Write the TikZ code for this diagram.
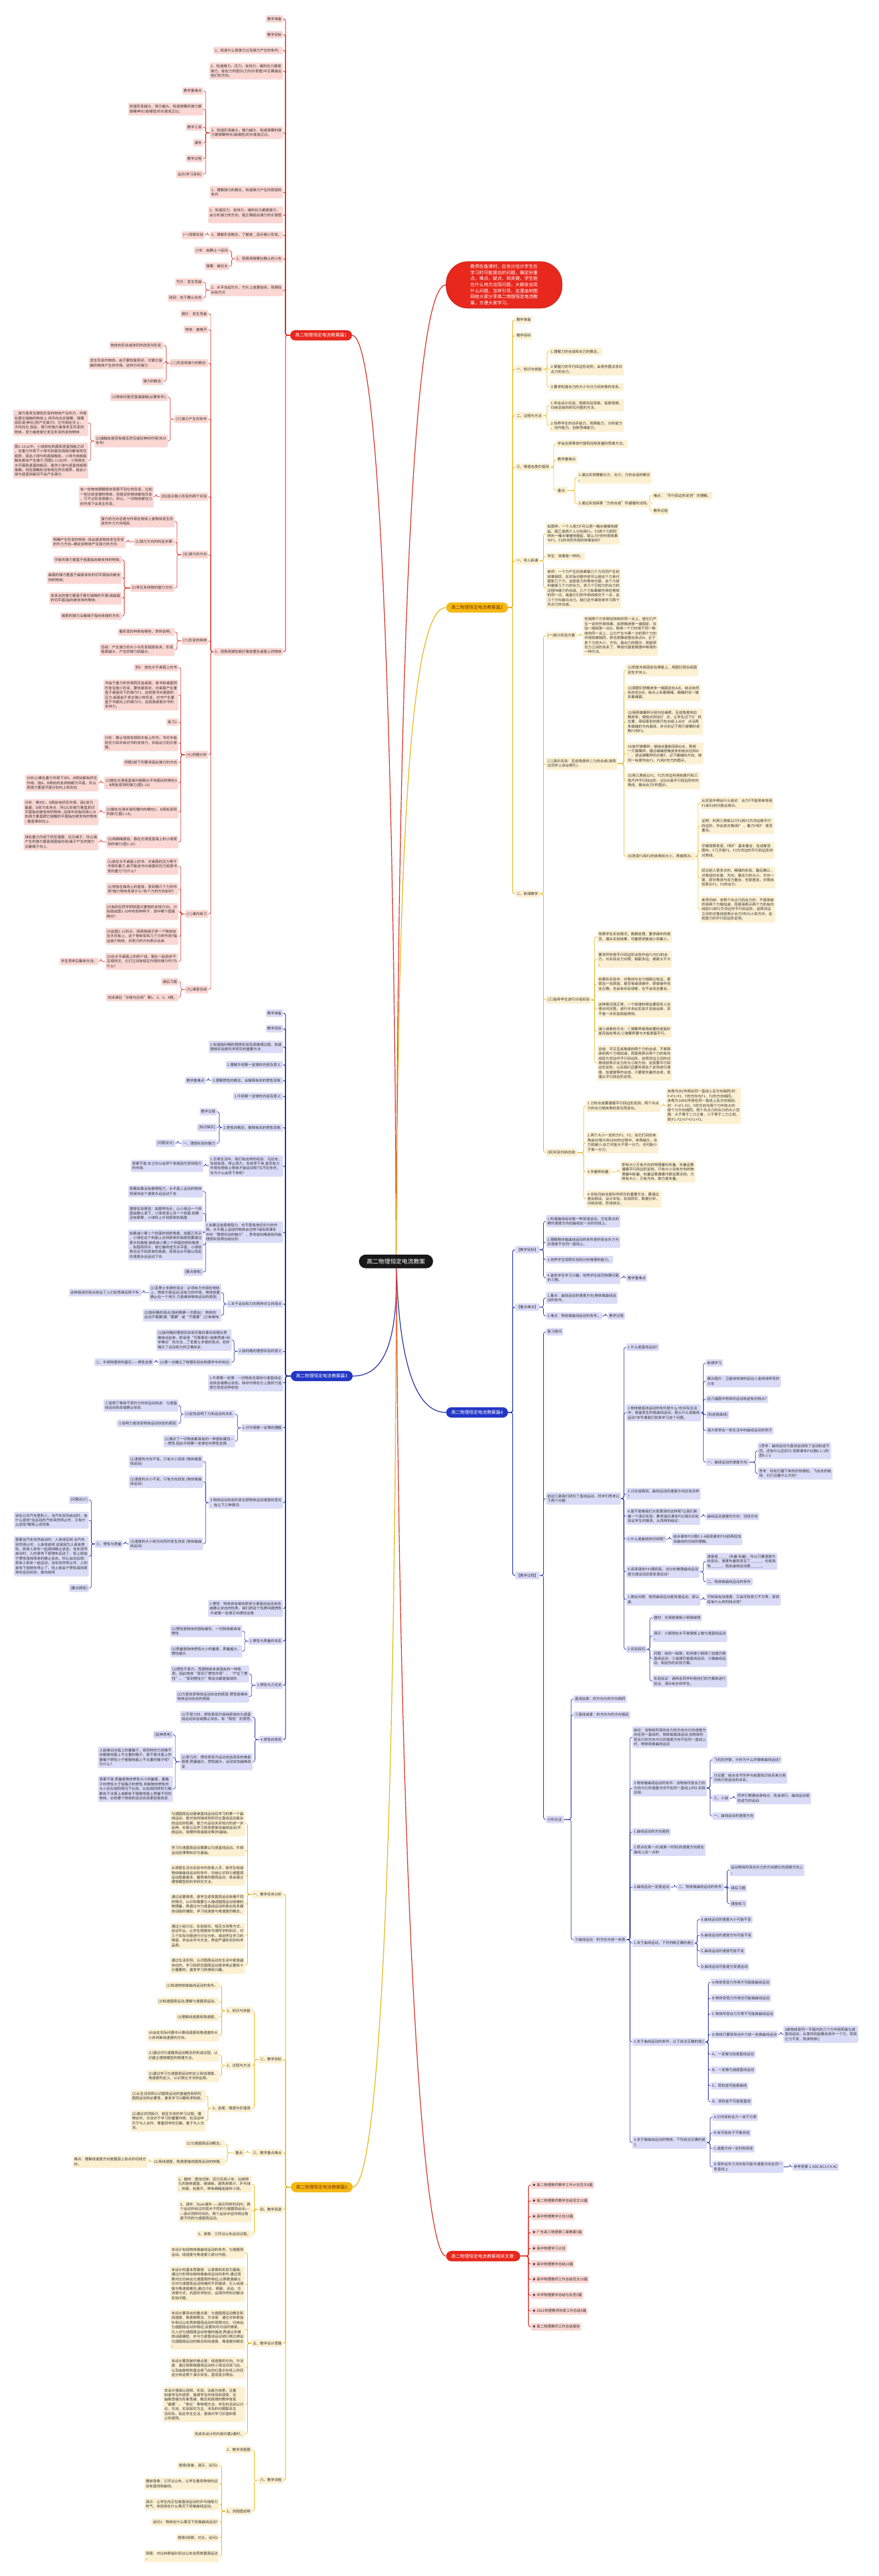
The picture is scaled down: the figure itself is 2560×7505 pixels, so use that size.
\documentclass[tikz,border=0pt]{standalone}
\usepackage{fontspec}
\setmainfont{Noto Sans CJK SC}
\usetikzlibrary{calc}
\pgfdeclarelayer{background}
\pgfsetlayers{background,main}
\definecolor{rleaf}{HTML}{FBD7D3}
\definecolor{rline}{HTML}{D9281E}
\definecolor{yleaf}{HTML}{FCF0D2}
\definecolor{yline}{HTML}{E6B410}
\definecolor{bleaf}{HTML}{D9DBF7}
\definecolor{bline}{HTML}{1C2BA0}
\definecolor{txt}{HTML}{333333}
\definecolor{mred}{HTML}{E8271D}
\definecolor{mgold}{HTML}{F4B915}
\definecolor{mblue}{HTML}{2337C6}
\definecolor{gtxt}{HTML}{7B3300}
\newcommand\leaffont{\fontsize{10.5}{13.6}\selectfont}
\newcommand\cL[3]{\foreach \cc in {#3}{\draw[#1] (#2.west) -| ([xshift=7pt]\cc.east) -- (\cc.east);}}
\newcommand\cR[3]{\foreach \cc in {#3}{\draw[#1] (#2.east) -| ([xshift=-7pt]\cc.west) -- (\cc.west);}}
\begin{document}
\begin{tikzpicture}[x=1pt,y=-1pt,
 leaf/.style={rounded corners=3pt, inner xsep=4pt, inner ysep=6pt, align=left, font=\leaffont, text=txt},
 rn/.style={leaf, fill=rleaf}, yn/.style={leaf, fill=yleaf}, bn/.style={leaf, fill=bleaf},
 ae/.style={anchor=east}, aw/.style={anchor=west},
 rc/.style={draw=rline, line width=1.3pt, rounded corners=6pt},
 yc/.style={draw=yline, line width=1.3pt, rounded corners=6pt},
 bc/.style={draw=bline, line width=1.3pt, rounded corners=6pt},
 rcm/.style={rc, line width=1.9pt}, ycm/.style={yc, line width=1.9pt}, bcm/.style={bc, line width=1.9pt},
 mainnode/.style={rounded corners=15pt, minimum height=30pt, inner xsep=15pt, font=\fontsize{13}{15}\selectfont},
]
\useasboundingbox (0,0) rectangle (2560,7505);

% ---------- centre and main nodes
\node[fill=black!90, text=white, rounded corners=20pt, minimum width=216pt, minimum height=40pt, font=\fontsize{17}{20}\selectfont] (C) at (1154,3675) {高二物理恒定电流教案};
\node[fill=mred, draw=rline!80!black, line width=1pt, text=white, rounded corners=64pt, minimum width=338pt, minimum height=136pt, align=left, font=\fontsize{13.1}{17.7}\selectfont] (ov) at (1469,830) {教师在备课时，应充分估计学生在\\学习时可能提出的问题，确定好重\\点，难点，疑点，和关键。学生能\\在什么地方出现问题，大都会出现\\什么问题，怎样引导。这里由树图\\网给大家分享高二物理恒定电流教\\案，方便大家学习。};
\node[mainnode, ae, fill=mred, text=white] (p1) at (1026,977) {高二物理恒定电流教案篇1};
\node[mainnode, aw, fill=mgold, text=gtxt] (p2) at (1300,1770) {高二物理恒定电流教案篇2};
\node[mainnode, ae, fill=mblue, text=white] (p3) at (1028,4009) {高二物理恒定电流教案篇3};
\node[mainnode, aw, fill=mblue, text=white] (p4) at (1300,4115) {高二物理恒定电流教案篇4};
\node[mainnode, ae, fill=mgold, text=gtxt] (p5) at (1028,6372) {高二物理恒定电流教案篇5};
\node[mainnode, aw, fill=mred, text=white] (p6) at (1300,6573) {高二物理恒定电流教案相关文章:};

% ---------- branch 1
\node[rn,ae] (a1) at (825,55) {教学准备};
\node[rn,ae] (a2) at (825,101) {教学目标};
\node[rn,ae] (a3) at (825,147) {1、知道什么是弹力以及弹力产生的条件。};
\node[rn,ae] (a4) at (825,207) {2、知道推力、压力、支持力、绳的拉力都是\\弹力，能在力的图示(力的示意图)中正确画出\\他们的方向。};
\node[rn,ae] (a5) at (825,387) {3、知道形变越大，弹力越大，知道弹簧的弹\\力跟弹簧伸长(或缩短)的长度成正比。};
\node[rn,ae] (a5a) at (592,265) {教学重难点};
\node[rn,ae] (a5b) at (592,318) {知道形变越大，弹力越大，知道弹簧的弹力跟\\弹簧伸长(或缩短)的长度成正比。};
\node[rn,ae] (a5c) at (592,370) {教学工具};
\node[rn,ae] (a5d) at (592,416) {课件};
\node[rn,ae] (a5e) at (592,462) {教学过程};
\node[rn,ae] (a5f) at (592,508) {出示[学习目标]};
\node[rn,ae] (a6) at (825,560) {1、理解弹力的概念，知道弹力产生的原因和\\条件.};
\node[rn,ae] (a7) at (825,626) {2、知道压力、支持力、绳的拉力都是弹力，\\会分析弹力的方向，能正确画出弹力的示意图\\.};
\node[rn,ae] (a8) at (825,685) {3、理解形变概念，了解放＿显示微小形变。};
\node[rn,ae] (a8a) at (597,685) {(一)观察实验};
\node[rn,ae] (a9) at (825,754) {1、观察用弹簧拉静止的小车};
\node[rn,ae] (a9a) at (668,730) {小车：由静止→运动};
\node[rn,ae] (a9b) at (668,776) {弹簧：被拉长};
\node[rn,ae] (a10) at (825,845) {2、水平支起竹片，竹片上放置砝码，观察砝\\码和竹片};
\node[rn,ae] (a10a) at (592,822) {竹片：发生弯曲};
\node[rn,ae] (a10b) at (592,868) {砝码：处于静止状态};
\node[rn,ae] (a11) at (825,1899) {3、观察用弹性钢片推放置在桌面上的物体};
\node[rn,ae] (b1) at (607,914) {钢片：发生弯曲};
\node[rn,ae] (b2) at (607,960) {物体：被推开};
\node[rn,ae] (b3) at (607,1058) {(二)形变和弹力的概念:};
\node[rn,ae] (b3a) at (477,1006) {物体的形状或体积的改变叫形变.};
\node[rn,ae] (b3b) at (477,1058) {发生形变的物体，由于要恢复原状，对跟它接\\触的物体产生的作用，这种力叫弹力.};
\node[rn,ae] (b3c) at (477,1111) {弹力的概念:};
\node[rn,ae] (b4) at (607,1221) {(三)弹力产生的条件};
\node[rn,ae] (b4a) at (489,1157) {(1)物体间是否直接接触(必要条件);};
\node[rn,ae] (b4b) at (489,1285) {(2)接触处是否有相互挤压或拉伸的作用(充分\\条件)};
\node[rn,ae] (b4b1) at (257,1232) {＿弹力是发生弹性形变的物体产生的力，作用\\在跟它接触的物体上.用手向右拉弹簧，弹簧\\因形变(伸长)而产生弹力f，它作用在手上，\\方向向左.因此，弹力的施力者是发生形变的\\物体，受力者是使它发生形变的其他物体.};
\node[rn,ae] (b4b2) at (257,1342) {图1-11(a)中，小球放在斜面和竖直挡板之间\\，在重力作用下小球与斜面及挡板间都有挤压\\趋势，因此小球与斜面接触处，小球与挡板接\\触处都会产生弹力.而图1-11(b)中，小球放在\\水平面和竖直挡板间，虽然小球与竖直挡板相\\接触，但在接触处没有相互挤压趋势，因此小\\球与竖直挡板间不会产生弹力.};
\node[rn,ae] (b5) at (607,1447) {(四)显示微小形变的两个实验};
\node[rn,ae] (b5a) at (448,1447) {有一些物体眼睛根本观察不到它的形变，比如\\一些比较坚硬的物体，但是这些物体都有形变\\，只不过形变很微小。所以，一切物体都在力\\的作用下会发生形变。};
\node[rn,ae] (b6) at (607,1616) {(五)弹力的方向};
\node[rn,ae] (b6a) at (509,1519) {弹力的方向总是与作用在物体上使物体发生形\\变的外力方向相反.};
\node[rn,ae] (b6b) at (509,1579) {(1)弹力方向的判定步骤:};
\node[rn,ae] (b6b1) at (366,1579) {明确产生形变的物体-{}-找出使该物体发生形变\\的外力方向-{}-确定该物体产生弹力的方向.};
\node[rn,ae] (b6c) at (509,1713) {(2)常见支持物的弹力方向:};
\node[rn,ae] (b6c1) at (355,1631) {平板的弹力垂直于板面指向被支持的物体;};
\node[rn,ae] (b6c2) at (355,1683) {曲面的弹力垂直于曲面该处的切平面指向被支\\持的物体;};
\node[rn,ae] (b6c3) at (355,1743) {支承点的弹力垂直于跟它接触的平面(或曲面\\的切平面)指向被支持的物体;};
\node[rn,ae] (b6c4) at (355,1795) {绳索的弹力沿着绳子指向收缩的方向.};
\node[rn,ae] (b7) at (607,1867) {(六)形变的种类};
\node[rn,ae] (b7a) at (509,1841) {看形变的种类有哪些，举例说明。};
\node[rn,ae] (b7b) at (509,1893) {总结：产生弹力的大小与形变程度有关，形变\\程度越大，产生的弹力就越大。};
\node[rn,ae] (b8) at (607,2199) {(七)例题分析};
\node[rn,ae] (b8a) at (520,1945) {例1：放在水平桌面上的书};
\node[rn,ae] (b8b) at (520,2025) {书由于重力的作用而压迫桌面，使书和桌面同\\时发生微小形变，要恢复原状，对桌面产生垂\\直于桌面向下的弹力F1，这就是书对桌面的\\压力;桌面由于发生微小的形变，对书产生垂\\直于书面向上的弹力F2，这就是桌面对书的\\支持力。};
\node[rn,ae] (b8c) at (520,2104) {练习1};
\node[rn,ae] (b8d) at (520,2164) {分析：静止地放在倾斜木板上的书，书对木板\\的压力和木板对书的支持力，并画出力的示意\\图。};
\node[rn,ae] (b8e) at (520,2222) {例题2按下列要求画出弹力的方向};
\node[rn,ae] (b8f) at (520,2281) {(1)搁在光滑竖直墙与粗糙水平地面间的棒在A\\，B两处受到的弹力(图1-13)};
\node[rn,ae] (b8f1) at (287,2281) {分析(1)棒在重力作用下对A，B两处都有挤压\\作用，因A，B两处的支持物都为平面，所以\\其弹力垂直平面分别向上和向右.};
\node[rn,ae] (b8g) at (520,2366) {(2)搁在光滑半球形槽内的棒在C，D两处受到\\的弹力(图1-14);};
\node[rn,ae] (b8g1) at (287,2366) {分析：棒对C，D两处有挤压作用，因C处为\\曲面，D处为支承点，所以C处弹力垂直其切\\平面指向被支持的物体-{}-沿球半径指向球心;D\\处弹力垂直跟它接触的平面指向被支持的物体\\-{}-垂直棒斜向上.};
\node[rn,ae] (b8h) at (520,2453) {(3)用细绳悬挂、靠在光滑竖直墙上的小球受\\到的弹力(图1-15)};
\node[rn,ae] (b8h1) at (287,2453) {球在重力作用下挤压墙壁，拉引绳子，所以墙\\产生的弹力垂直墙面指向球;绳子产生的弹力\\沿着绳子向上.};
\node[rn,ae] (b9) at (607,2663) {(八)课内练习};
\node[rn,ae] (b9a) at (520,2524) {(1)放在水平桌面上的书，对桌面的压力等于\\书受的重力.能不能说书对桌面的压力就是书\\受的重力?为什么?};
\node[rn,ae] (b9b) at (520,2590) {(2)停放在操场上的篮球，受到哪几个力的作\\用?施力物体各是什么?各个力的方向如何?};
\node[rn,ae] (b9c) at (520,2656) {(3)有四位同学把斜面对重物的支持力3N，分\\别画成图1-10中的四种样子，其中哪个图画\\得对?};
\node[rn,ae] (b9d) at (520,2728) {(4)如图1-11所示，用两根绳子把一个物体挂\\在天花板上，这个物体受到几个力的作用?指\\出施力物体，并把力的方向表示出来.};
\node[rn,ae] (b9e) at (520,2801) {(5)在水平桌面上的两个球，靠在一起但并不\\互相挤压，它们之间有相互作用的弹力吗?为\\什么?};
\node[rn,ae] (b9e1) at (287,2801) {学生思考后集体交流。};
\node[rn,ae] (b10) at (607,2883) {(九)课堂总结};
\node[rn,ae] (b10a) at (520,2860) {课后习题};
\node[rn,ae] (b10b) at (520,2906) {完成课后“训练与应用”第1、2、3、4题。};

% ---------- branch 2
\node[yn,aw] (c1) at (1501,932) {教学准备};
\node[yn,aw] (c2) at (1501,978) {教学目标};
\node[yn,aw] (c3) at (1501,1076) {一、知识与技能};
\node[yn,aw] (c3a) at (1601,1024) {1.理解力的合成和合力的概念。};
\node[yn,aw] (c3b) at (1601,1076) {2.掌握力的平行四边形定则，会用作图法求共\\点力的合力。};
\node[yn,aw] (c3c) at (1601,1128) {3.要求知道合力的大小与分力间夹角的关系。};
\node[yn,aw] (c4) at (1501,1211) {二、过程与方法};
\node[yn,aw] (c4a) at (1601,1181) {1.学会设计实验、观察实验现象、探索规律、\\归纳总结的研究问题的方法。};
\node[yn,aw] (c4b) at (1601,1240) {2.培养学生的动手能力、观察能力、分析能力\\、协作能力、创新思维能力。};
\node[yn,aw] (c5) at (1501,1361) {三、情感态度价值观};
\node[yn,aw] (c5a) at (1621,1293) {学会应用等效代替和控制变量的思维方法。};
\node[yn,aw] (c5b) at (1621,1339) {教学重难点};
\node[yn,aw] (c5c) at (1621,1429) {重点:};
\node[yn,aw] (c5c1) at (1682,1391) {1.通过实例理解分力、合力、力的合成的概念\\。};
\node[yn,aw] (c5c2) at (1682,1467) {2.通过实验探索“力的合成”所遵循的法则。};
\node[yn,aw] (c5c2a) at (1900,1444) {难点：“平行四边形定则”的理解。};
\node[yn,aw] (c5c2b) at (1900,1489) {教学过程};
\node[yn,aw] (c6) at (1501,1634) {一、导入新课};
\node[yn,aw] (c6a) at (1591,1555) {如图甲，一个人用力F可以把一桶水慢慢地提\\起，图乙是两个人分别用F1、F2两个力把同\\样的一桶水慢慢地提起，那么力F的作用效果\\与F1、F2的共同作用的效果如何?};
\node[yn,aw] (c6b) at (1591,1621) {学生：效果是一样的。};
\node[yn,aw] (c6c) at (1591,1714) {老师：一个力产生的效果跟几个力共同产生的\\效果相同，在实际问题中就可以用这个力来代\\替那几个力，这就是力的等效代替。这个力就\\叫做那几个力的合力。求几个已知力的合力的\\过程叫做力的合成。几个力如果都作用在物体\\的同一点，或者它们的作用线相交于一点，这\\几个力叫做共点力。我们这节课就来学习两个\\共点力的合成。};
\node[yn,aw] (c7) at (1501,2604) {二、新课教学};
\node[yn,aw] (d1) at (1591,1852) {(一)探讨实验方案};
\node[yn,aw] (d1a) at (1699,1852) {先用两个力作用在物体的同一点上，使它们产\\生一定的作用效果，如把橡皮筋一端固定，拉\\加一端到某一点O。再用一个力作用于同一物\\体的同一点上，让它产生与第一次的两个力的\\作用效果相同，即也把橡皮筋拉到点O，记下\\各个力的大小、方向，画出力的图示，就能研\\究力之间的关系了。等效代替是物理中常用的\\一种方法。};
\node[yn,aw] (d2) at (1591,2225) {(二)演示实验：互成角度的二力的合成(请两\\位同学上讲台帮忙)。};
\node[yn,aw] (d2a) at (1825,1952) {(1)把放木板固定在黑板上，用图钉把白纸固\\定在木块上。};
\node[yn,aw] (d2b) at (1825,2018) {(2)用图钉把橡皮条一端固定在A点，结点自然\\状态在O点，结点上系着细绳，细绳的另一端\\系着绳套。};
\node[yn,aw] (d2c) at (1825,2103) {(3)用两弹簧秤分别勾住绳索，互成角度地拉\\橡皮条，使结点到达O'点，让学生记下O'的\\位置，用铅笔和刻度尺在白纸上从O'点沿两\\条细绳的方向画线，并分别记下两只弹簧的读\\数F1和F2。};
\node[yn,aw] (d2d) at (1825,2195) {(4)放开弹簧秤，使结点重新回到O点，再用\\一只弹簧秤，通过细绳把橡皮条的结点拉到O\\'，读出弹簧秤的示数F，记下细绳的方向，按\\同一标度作出F1、F2和F的力的图示。};
\node[yn,aw] (d2e) at (1825,2274) {(5)用三角板以F1、F2为邻边利用刻度尺和三\\角尺作平行四边形，过O点画平行四边形的对\\角线，做出合力F的图示。};
\node[yn,aw] (d2f) at (1825,2495) {(6)改变F1和F2的夹角和大小，再做两次。};
\node[yn,aw] (d2f1) at (2041,2340) {从实验中得出什么结论：合力F不能简单地用\\F1和F2的代数合表示。};
\node[yn,aw] (d2f2) at (2041,2406) {证明：利用三角板以力F1和F2为邻边做平行\\四边形，作出其对角线F'，看力F和F'是否\\重合。};
\node[yn,aw] (d2f3) at (2041,2478) {仔细观察发现，F和F'基本重合，在误差范\\围内，F几乎是F1、F2为邻边的平行四边形的\\对角线。};
\node[yn,aw] (d2f4) at (2041,2557) {经过前人很多次的、精细的实验，最后确认，\\对角线的长度、方向，跟合力的大小、方向一\\致，即对角线与合力重合，也就是说，对角线\\就表示F1、F2的合力。};
\node[yn,aw] (d2f5) at (2041,2649) {老师归纳：求两个共点力的合力时，不是简单\\的将两个力相加减，而是用表示两个力的有向\\线段F1和F2为邻边作平行四边形，这两邻边\\之间的对角线就表示合力F的大小和方向，这\\就是力的平行四边形定则。};
\node[yn,aw] (d3) at (1591,2913) {(三)指导学生进行分组实验};
\node[yn,aw] (d3a) at (1740,2729) {观察学生实验情况，数据处理，要求操作的规\\范，遵从实验结果，尽量把误差减小到最小。};
\node[yn,aw] (d3b) at (1740,2795) {要求同学用平行四边形法则作出F1与F2的合\\力，与实际合力对照，相距多远，差距大不大\\。};
\node[yn,aw] (d3c) at (1740,2867) {如果在实验中，对角线与合力相距比较远，那\\就找一找原因，是否有错误操作，即使操作完\\全正确，也会有实验误差，也不会完全重合。};
\node[yn,aw] (d3d) at (1740,2940) {这种情况很正常，一个规律的得出要很多人在\\很长时间里，进行许多此实验才总结出来，并\\不是一次实验就能得到。};
\node[yn,aw] (d3e) at (1740,3005) {减小误差的方法：①弹簧秤使用前要检查指针\\是否指在零点;②弹簧秤要与木板表面平行。};
\node[yn,aw] (d3f) at (1740,3097) {总结：可见互成角度的两个力的合成，不是简\\单的两个力相加减，而是用表示两个力的有向\\线段为邻边作平行四边形，这两邻边之间的对\\角线就表示合力的大小和方向。这就要平行四\\边形定则，以后我们还要利用这个定则进行速\\度、加速度等的合成。只要是矢量的合成，就\\遵从平行四边形定则。};
\node[yn,aw] (d4) at (1591,3358) {(四)实验归纳总结:};
\node[yn,aw] (d4a) at (1708,3222) {1.力的合成要遵循平行四边形定则。两个共点\\力的合力随夹角的变化而变化。};
\node[yn,aw] (d4a1) at (1941,3222) {夹角为00(作用在同一直线上且方向相同)时：\\F=F1+F2，F的方向与F1、F2的方向相同。\\夹角为1800(作用在同一直线上且方向相反)\\时：F=|F1-F2|，F的方向与两个力中较大的\\那个力方向相同。两个共点力的合力的大小范\\围：大于等于二力之差，小于等于二力之和，\\即|F1-F2|≤F≤F1+F2。};
\node[yn,aw] (d4b) at (1708,3329) {2.两个大小一定的力F1、F2，当它们间的夹\\角由00增大到1800的过程中，夹角越大，合\\力就越小;合力可能大于某一分力，也可能小\\于某一分力。};
\node[yn,aw] (d4c) at (1708,3414) {3.矢量和标量:};
\node[yn,aw] (d4c1) at (1808,3414) {即有大小又有方向的物理量叫矢量，矢量运算\\遵循平行四边形定则。只有大小没有方向的物\\理量叫标量，标量运算遵循代数运算法则。力\\既有大小，又有方向，故力是矢量。};
\node[yn,aw] (d4d) at (1708,3493) {4.实验归纳法是科学研究的重要方法，要通过\\提出假设，设计实验，实验研究，数据分析，\\归纳总结，形成结论。};

% ---------- branch 3
\node[bn,ae] (e1) at (825,2952) {教学准备};
\node[bn,ae] (e2) at (825,2997) {教学目标};
\node[bn,ae] (e3) at (825,3050) {1.知道伽利略的理想实验及其推理过程，知道\\理想实验是科学研究的重要方法.};
\node[bn,ae] (e4) at (825,3102) {2.理解牛顿第一定律的内容及意义.};
\node[bn,ae] (e5) at (825,3148) {3.理解惯性的概念，会解释有关的惯性现象.};
\node[bn,ae] (e5a) at (600,3148) {教学重难点};
\node[bn,ae] (e6) at (825,3194) {1.牛顿第一定律的内容及意义.};
\node[bn,ae] (e7) at (825,3285) {2.惯性的概念，解释有关的惯性现象.};
\node[bn,ae] (e7a) at (632,3239) {教学过程};
\node[bn,ae] (e7b) at (632,3285) {[知识探究]};
\node[bn,ae] (e7c) at (632,3331) {一、理想实验的魅力};
\node[bn,ae] (e7c1) at (511,3331) {[问题设计]};
\node[bn,ae] (e8) at (825,3397) {1.日常生活中，我们有这样的经验：马拉车，\\车就前进，停止用力，车就停下来.是否有力\\作用在物体上物体才能运动呢?马不拉车时，\\车为什么会停下来呢?};
\node[bn,ae] (e8a) at (592,3397) {答案不是.车之所以会停下来是因为受到阻力\\的作用.};
\node[bn,ae] (e9) at (825,3590) {2.如果没有摩擦阻力，也不受其他任何力的作\\用，水平面上运动的物体会怎样?请阅读课本\\中的“理想实验的魅力”，思考伽利略是如何由\\理想实验得出结论的.};
\node[bn,ae] (e9a) at (592,3471) {答案如果没有摩擦阻力，水平面上运动的物体\\将保持这个速度永远运动下去.};
\node[bn,ae] (e9b) at (592,3535) {理想实验再现：如图甲所示，让小球沿一个斜\\面由静止滚下，小球将滚上另一个斜面.如果\\没有摩擦，小球将上升到原来的高度.};
\node[bn,ae] (e9c) at (592,3627) {如果减小第二个斜面的倾斜角度，如图乙所示\\，小球在这个斜面上达到原来的高度就要通过\\更长的路程.继续减小第二个斜面的倾斜角度\\，如图丙所示，使它最终成为水平面，小球就\\再也达不到原来的高度，而将沿水平面以恒定\\的速度永远运动下去.};
\node[bn,ae] (e9d) at (592,3706) {[要点提炼]};
\node[bn,ae] (e10) at (825,3799) {1.关于运动和力的两种对立的观点};
\node[bn,ae] (e10a) at (645,3766) {(1)亚里士多德的观点：必须有力作用在物体\\上，物体才能运动;没有力的作用，物体就要\\静止在一个地方.力是维持物体运动的原因.};
\node[bn,ae] (e10a1) at (412,3766) {这种错误的观点统治了人们的思维近两千年.};
\node[bn,ae] (e10b) at (645,3832) {(2)伽利略的观点(伽利略第一次提出)：物体的\\运动不需要(填“需要”或“不需要”)力来维持.};
\node[bn,ae] (e11) at (825,3937) {2.伽利略的理想实验的意义};
\node[bn,ae] (e11a) at (675,3904) {(1)伽利略的理想实验将可靠的事实和理论思\\维结合起来，即采用“可靠事实+抽象思维+科\\学推论”的方法＿了亚里士多德的观点，初步\\揭示了运动和力的正确关系.};
\node[bn,ae] (e11b) at (675,3969) {(2)第一次确立了物理实验在物理学中的地位.};
\node[bn,ae] (e11b1) at (448,3969) {二、牛顿物理学的基石——惯性定律};
\node[bn,ae] (e12) at (825,4029) {1.牛顿第一定律：一切物体总保持匀速直线运\\动状态或静止状态，除非作用在它上面的力迫\\使它改变这种状态.};
\node[bn,ae] (e13) at (825,4160) {2.对牛顿第一定律的理解};
\node[bn,ae] (e13a) at (685,4120) {(1)定性说明了力和运动的关系.};
\node[bn,ae] (e13a1) at (520,4095) {①说明了物体不受外力时的运动状态：匀速直\\线运动状态或静止状态.};
\node[bn,ae] (e13a2) at (520,4147) {②说明力是改变物体运动状态的原因.};
\node[bn,ae] (e13b) at (685,4199) {(2)揭示了一切物体都具有的一种固有属性—\\—惯性.因此牛顿第一定律也叫惯性定律.};
\node[bn,ae] (e14) at (825,4378) {3.物体运动状态的变化即物体运动速度的变化\\，有以下三种情况:};
\node[bn,ae] (e14a) at (592,4258) {(1)速度的方向不变，只有大小改变.(物体做直\\线运动)};
\node[bn,ae] (e14b) at (592,4317) {(2)速度的大小不变，只有方向改变.(物体做曲\\线运动)};
\node[bn,ae] (e14c) at (592,4498) {(3)速度的大小和方向同时发生改变.(物体做曲\\线运动)};
\node[bn,ae] (e14c1) at (358,4498) {三、惯性与质量};
\node[bn,ae] (e14c1a) at (259,4370) {[问题设计]};
\node[bn,ae] (e14c1b) at (259,4429) {坐在公共汽车里的人，当汽车突然启动时，有\\什么感觉?当运动的汽车突然停止时，又有什\\么感觉?解释上述现象.};
\node[bn,ae] (e14c1c) at (259,4534) {答案当汽车突然启动时，人身体后倾.当汽车\\突然停止时，人身体前倾.这是因为人具有惯\\性，原来人和车一起保持静止状态，当车突然\\启动时，人的身体下部随车运动了，但上部由\\于惯性保持原来的静止状态，所以会向后倾;\\原来人和车一起运动，当车突然停止时，人的\\身体下部随车停止了，但上部由于惯性保持原\\来的运动状态，故向前倾.};
\node[bn,ae] (e14c1d) at (259,4627) {[要点提炼]};
\node[bn,ae] (e15) at (825,4686) {1.惯性：物体具有保持原来匀速直线运动状态\\或静止状态的性质，我们把这个性质叫做惯性\\.牛顿第一定律又叫惯性定律.};
\node[bn,ae] (e16) at (825,4781) {2.惯性与质量的关系};
\node[bn,ae] (e16a) at (706,4752) {(1)惯性是物体的固有属性，一切物体都具有\\惯性.};
\node[bn,ae] (e16b) at (706,4811) {(2)质量是物体惯性大小的量度，质量越大，\\惯性越大.};
\node[bn,ae] (e17) at (825,4910) {3.惯性与力无关};
\node[bn,ae] (e17a) at (726,4877) {(1)惯性不是力，而是物体本身固有的一种性\\质，因此物体“受到了惯性作用”、“产生了惯\\性”、“受到惯性力”等说法都是错误的.};
\node[bn,ae] (e17b) at (726,4943) {(2)力是改变物体运动状态的原因.惯性是维持\\物体运动状态的原因.};
\node[bn,ae] (e18) at (825,5068) {4.惯性的表现};
\node[bn,ae] (e18a) at (736,5002) {(1)不受力时，惯性表现为保持原来的匀速直\\线运动状态或静止状态，有“惰性”的意思.};
\node[bn,ae] (e18b) at (736,5133) {(2)受力时，惯性表现为运动状态改变的难易\\程度.质量越大，惯性越大，运动状态越难改\\变.};
\node[bn,ae] (e18b1) at (504,5054) {[延伸思考]};
\node[bn,ae] (e18b2) at (504,5120) {人能推动冰面上的重箱子，用同样的力却推不\\动粗糙地面上不太重的箱子，是不是冰面上的\\重箱子惯性小于粗糙地面上不太重的箱子呢?\\为什么?};
\node[bn,ae] (e18b3) at (504,5212) {答案不是.质量是物体惯性大小的量度，重箱\\子的惯性大于轻箱子的惯性.判断物体惯性的\\大小应在相同情况下比较，比如用同样的力推\\都处于冰面上或都处于粗糙地面上质量不同的\\物体，比较哪个物体的运动状态更容易改变.};

% ---------- branch 4
\node[bn,aw] (f1) at (1501,3641) {【教学目标】};
\node[bn,aw] (f1a) at (1591,3558) {1.知道曲线运动是一种变速运动，它在某点的\\瞬时速度方向在曲线这一点的切线上。};
\node[bn,aw] (f1b) at (1591,3618) {2.理解物体做曲线运动的条件是所受合外力与\\初速度不在同一直线上。};
\node[bn,aw] (f1c) at (1591,3670) {3.培养学生观察实验和分析推理的能力。};
\node[bn,aw] (f1d) at (1591,3723) {4.激发学生学习兴趣，培养学生探究物理问题\\的习惯。};
\node[bn,aw] (f1d1) at (1825,3723) {教学重难点};
\node[bn,aw] (f2) at (1501,3808) {【重点难点】};
\node[bn,aw] (f2a) at (1591,3781) {1.重点：曲线运动的速度方向;物体做曲线运\\动的条件。};
\node[bn,aw] (f2b) at (1591,3834) {2.难点：物体做曲线运动的条件。};
\node[bn,aw] (f2b1) at (1771,3834) {教学过程};
\node[bn,aw] (f3) at (1501,4590) {【教学过程】};
\node[bn,aw] (g1) at (1591,3880) {复习提问};
\node[bn,aw] (g2) at (1591,4366) {前边几章我们研究了直线运动，同学们思考以\\下两个问题:};
\node[bn,aw] (g2a) at (1825,3925) {1.什么是直线运动?};
\node[bn,aw] (g2b) at (1825,4116) {2.物体做直线运动的条件是什么?在实际生活\\中，普遍发生的是曲线运动，那么什么是曲线\\运动?本节课我们就来学习这个问题。};
\node[bn,aw] (g2b1) at (2057,3971) {新课学习};
\node[bn,aw] (g2b2) at (2057,4024) {展示图片：卫星绕地球的运动人造地球转弯的\\火车};
\node[bn,aw] (g2b3) at (2057,4076) {这几幅图中物体的运动轨迹有何特点?};
\node[bn,aw] (g2b4) at (2057,4122) {(轨迹是曲线)};
\node[bn,aw] (g2b5) at (2057,4168) {请大家举出一些生活中的曲线运动的例子};
\node[bn,aw] (g2b6) at (2057,4260) {一、曲线运动的速度方向:};
\node[bn,aw] (g2b6a) at (2208,4227) {1思考：曲线运动与直线运动除了运动轨迹不\\同，还有什么区别?2.观察课本P32图6.1-1和\\图6.1-2};
\node[bn,aw] (g2b6b) at (2208,4293) {思考：砂轮打磨下来的炽热微粒、飞出去的链\\球，它们沿着什么方向?};
\node[bn,aw] (g2c) at (1825,4352) {3.讨论或猜测，曲线运动的速度方向应该怎样\\?};
\node[bn,aw] (g2d) at (1825,4418) {4.是不是像我们大家猜测的这样呢?让我们来\\看一个演示实验：教师演示课本P32演示实验\\验证学生的猜测，从而得到结论：};
\node[bn,aw] (g2d1) at (2057,4418) {曲线运动速度的方向：切线方向};
\node[bn,aw] (g2e) at (1825,4484) {5.什么是曲线的切线呢?};
\node[bn,aw] (g2e1) at (1958,4484) {结合课本P33图6.1-4阅读课本P33前两段加\\深曲线的切线的理解。};
\node[bn,aw] (g2f) at (1825,4579) {6.阅读课本P33第四段，试分析推理曲线运动\\是匀速运动还是变速运动?};
\node[bn,aw] (g2f1) at (2057,4549) {速度是＿＿＿(矢量.标量)，所以只要速度方\\向变化，速度矢量就发生了＿＿＿，也就具\\有＿＿＿，因此曲线运动是＿＿＿。};
\node[bn,aw] (g2f2) at (2057,4608) {二、物体做曲线运动的条件:};
\node[bn,aw] (g2g) at (1825,4660) {1.提出问题：既然曲线运动是变速运动，那么\\曲};
\node[bn,aw] (g2g1) at (2057,4660) {可知具有加速度，又由可知受力不为零，那到\\底有什么样的特点呢?};
\node[bn,aw] (g2h) at (1825,4805) {2.实验探究};
\node[bn,aw] (g2h1) at (1901,4713) {器材：光滑玻璃板小钢球磁铁};
\node[bn,aw] (g2h2) at (1901,4766) {演示：小钢球在水平玻璃板上做匀速直线运动\\。};
\node[bn,aw] (g2h3) at (1901,4832) {问题：给你一磁铁，如何使小钢球①加速仍做\\直线运动，②减速仍做直线运动，③做曲线运\\动，制定你的实验方案。};
\node[bn,aw] (g2h4) at (1901,4898) {实验验证：请两名同学利用他们的方案来进行\\验证，演示给全体学生。};
\node[bn,aw] (g3) at (1591,5301) {分析论证:};
\node[bn,aw] (h1) at (1671,4950) {直线加速：的方向与的方向相同};
\node[bn,aw] (h2) at (1671,4996) {②直线减速：的方向与的方向相反};
\node[bn,aw] (h3) at (1671,5651) {③曲线运动：的方向与成一夹角};
\node[bn,aw] (h3a) at (1843,5061) {结论：当物体所受的合力的方向与它的速度方\\向在同一直线时，物体做直线运动;当物体所\\受合力的方向与它的速度方向不在同一直线上\\时，物体就做曲线运动};
\node[bn,aw] (h3b) at (1843,5209) {3.物体做曲线运动的条件：当物体所受合力的\\方向与它的速度方向不在同一直线上时4.实践\\应用:};
\node[bn,aw] (h3b1) at (2076,5127) {飞机扔炸弹，分析为什么炸弹做曲线运动?};
\node[bn,aw] (h3b2) at (2076,5179) {讨论题：结合本节所学与前面知识体系来分类\\归纳力和运动的关系。};
\node[bn,aw] (h3b3) at (2076,5239) {三、小结};
\node[bn,aw] (h3b3a) at (2145,5239) {同学们根据自身特点，各自进行。曲线运动是\\轨迹为的运动.};
\node[bn,aw] (h3b4) at (2076,5291) {一、曲线运动的速度方向};
\node[bn,aw] (h3c) at (1843,5337) {1.曲线运动的方向是的};
\node[bn,aw] (h3d) at (1843,5389) {2.质点在某一点(或某一时刻)的速度方向是在\\曲线上这一点的};
\node[bn,aw] (h3e) at (1843,5498) {3.曲线运动一定是运动};
\node[bn,aw] (h3e1) at (1973,5498) {二、物体做曲线运动的条件:};
\node[bn,aw] (h3e1a) at (2126,5448) {运动物体所受合外力的方向跟它的速度方向上\\。};
\node[bn,aw] (h3e1b) at (2126,5501) {课后习题};
\node[bn,aw] (h3e1c) at (2126,5546) {课堂练习};
\node[bn,aw] (h3f) at (1843,5661) {1.关于曲线运动，下列判断正确的是()};
\node[bn,aw] (h3f1) at (2039,5592) {A.曲线运动的速度大小可能不变};
\node[bn,aw] (h3f2) at (2039,5638) {B.曲线运动的速度方向可能不变};
\node[bn,aw] (h3f3) at (2039,5684) {C.曲线运动的速度可能不变};
\node[bn,aw] (h3f4) at (2039,5730) {D.曲线运动可能是匀变速运动};
\node[bn,aw] (h3g) at (1843,5949) {2.关于曲线运动的条件，以下说法正确的是()};
\node[bn,aw] (h3g1) at (2071,5775) {A.物体受变力作用才可能做曲线运动};
\node[bn,aw] (h3g2) at (2071,5821) {B.物体受恒力作用也可能做曲线运动};
\node[bn,aw] (h3g3) at (2071,5867) {C.物体所受合力为零不可能做曲线运动};
\node[bn,aw] (h3g4) at (2071,5927) {D.物体只要受到合外力就一定做曲线运动};
\node[bn,aw] (h3g4a) at (2283,5927) {3某物体受同一平面内的几个力作用而做匀速\\直线运动，从某时刻起撤去其中一个力，而其\\它力不变，则该物体()};
\node[bn,aw] (h3g5) at (2071,5985) {A、一定做匀加速直线运动};
\node[bn,aw] (h3g6) at (2071,6031) {B、一定做匀减速直线运动};
\node[bn,aw] (h3g7) at (2071,6077) {C、其轨迹可能是曲线};
\node[bn,aw] (h3g8) at (2071,6123) {D、其轨迹不可能是直线};
\node[bn,aw] (h3h) at (1843,6242) {4.关于做曲线运动的物体，下列说法正确的是\\()};
\node[bn,aw] (h3h1) at (2076,6168) {A.它所受的合力一定不为零};
\node[bn,aw] (h3h2) at (2076,6214) {B.有可能处于平衡状态};
\node[bn,aw] (h3h3) at (2076,6260) {C.速度方向一定时刻改变};
\node[bn,aw] (h3h4) at (2076,6313) {D.受的合外力方向有可能与速度方向在同一\\条直线上};
\node[bn,aw] (h3h4a) at (2309,6313) {参考答案:1.AD2.BC3.C4.AC};

% ---------- branch 5
\node[yn,ae] (k1) at (825,5519) {一、教学任务分析};
\node[yn,ae] (k1a) at (714,5312) {匀速圆周运动是继直线运动后学习的第一个曲\\线运动，是对如何描述和研究比直线运动复杂\\的运动的拓展，是力与运动关系知识的进一步\\延伸，也是以后学习其他更复杂曲线运动(平\\抛运动、单摆的简谐振动等)的基础。};
\node[yn,ae] (k1b) at (714,5391) {学习匀速圆周运动需要以匀速直线运动、牛顿\\运动定律等知识为基础。};
\node[yn,ae] (k1c) at (714,5463) {从观察生活与实验中的现象入手，使学生知道\\物体做曲线运动的条件，归纳认识到匀速圆周\\运动是最基本、最简单的圆周运动，体会建立\\理想模型的科学研究方法。};
\node[yn,ae] (k1d) at (714,5548) {通过设置情境，使学生感受圆周运动快慢不同\\的情况，认识到需要引入描述圆周运动快慢的\\物理量，再通过与匀速直线运动的类比和多媒\\体动画的辅助，学习线速度与角速度的概念。};
\node[yn,ae] (k1e) at (714,5640) {通过小组讨论、实验探究、相互交流等方式，\\创设平台，让学生根据本节课所学的知识，对\\几个实际问题进行讨论分析，调动学生学习的\\情感，学会合作与交流，养成严谨务实的科学\\品质。};
\node[yn,ae] (k1f) at (714,5726) {通过生活实例，认识圆周运动在生活中是普遍\\存在的，学习和研究圆周运动是非常必要和十\\分重要的，激发学习热情和兴趣。};
\node[yn,ae] (k2) at (825,6000) {二、教学目标};
\node[yn,ae] (k2a) at (734,5858) {1、知识与技能};
\node[yn,ae] (k2a1) at (639,5785) {(1)知道物体做曲线运动的条件。};
\node[yn,ae] (k2a2) at (639,5831) {(2)知道圆周运动;理解匀速圆周运动。};
\node[yn,ae] (k2a3) at (639,5877) {(3)理解线速度和角速度。};
\node[yn,ae] (k2a4) at (639,5930) {(4)会在实际问题中计算线速度和角速度的大\\小并判断线速度的方向。};
\node[yn,ae] (k2b) at (734,6018) {2、过程与方法};
\node[yn,ae] (k2b1) at (639,5988) {(1)通过对匀速圆周运动概念的形成过程，认\\识建立理想模型的物理方法。};
\node[yn,ae] (k2b2) at (639,6048) {(2)通过学习匀速圆周运动的定义和线速度、\\角速度的定义，认识类比方法的运用。};
\node[yn,ae] (k2c) at (734,6143) {3、态度、情感与价值观};
\node[yn,ae] (k2c1) at (599,6107) {(1)从生活实例认识圆周运动的普遍性和研究\\圆周运动的必要性，激发学习兴趣和求知欲。};
\node[yn,ae] (k2c2) at (599,6179) {(2)通过共同探讨、相互交流的学习过程，懂\\得合作、交流对于学习的重要作用，在活动中\\乐于与人合作，尊重同学的见解，善于与人交\\流。};
\node[yn,ae] (k3) at (825,6272) {三、教学重点难点};
\node[yn,ae] (k3a) at (714,6272) {重点:};
\node[yn,ae] (k3a1) at (655,6246) {(1)匀速圆周运动概念。};
\node[yn,ae] (k3a2) at (655,6298) {(2)用线速度、角速度描述圆周运动的快慢。};
\node[yn,ae] (k3a2a) at (430,6298) {难点：理解线速度方向是圆弧上各点的切线方\\向。};
\node[yn,ae] (k4) at (825,6437) {四、教学资源};
\node[yn,ae] (k4a) at (734,6363) {1、器材：壁挂式钟，回力玩具小车，边缘带\\孔的旋转圆盘，玻璃板，建筑用黄沙，乒乓球\\，斜面，刻度尺，带有细绳连接的小球。};
\node[yn,ae] (k4b) at (734,6443) {2、课件：flash课件——演示同样时间内，两\\个运动所经过的弧长不同的匀速圆周运动;—\\—演示同样时间内，两个运动半径所转过角\\度不同的匀速圆周运动。};
\node[yn,ae] (k4c) at (734,6509) {3、录像：三环过山车运动过程。};
\node[yn,ae] (k5) at (825,6827) {五、教学设计思路};
\node[yn,ae] (k5a) at (714,6562) {本设计包括物体做曲线运动的条件、匀速圆周\\运动、线速度与角速度三部分内容。};
\node[yn,ae] (k5b) at (714,6654) {本设计的基本思路是：以录像和实验为基础，\\通过分析得出物体做曲线运动的条件;通过观\\察对比归纳出匀速圆周的特征;以情景激疑认\\识对匀速圆周运动快慢的不同描述，引入线速\\度与角速度概念;通过讨论、释疑、活动、交\\流等方式，巩固所学知识，运用所学知识解决\\实际问题。};
\node[yn,ae] (k5c) at (714,6787) {本设计要突出的重点是：匀速圆周运动概念和\\线速度、角速度概念。方法是：通过对钟表指\\针和过山车两类圆周运动的观察对比，归纳出\\匀速圆周运动的特征;设置地月对话的情景，\\引入对匀速圆周运动快慢的描述;再通过多媒\\体动画辅助，并与匀速直线运动进行类比得出\\匀速圆周运动的概念和线速度、角速度的概念\\。};
\node[yn,ae] (k5d) at (714,6899) {本设计要突破的难点是：线速度的方向。方法\\是：通过观察做圆周运动的小球沿切线飞出，\\以及由旋转转盘边缘飞出的红墨水在纸上的径\\迹分布这两个演示实验，直观显示得出。};
\node[yn,ae] (k5e) at (714,7005) {本设计强调以视频、实验、动画为线索，注重\\刺激学生的感官，强调学生的体验和感受，化\\抽象思维为形象思维，概念和规律的教学体现\\“建模”、“类比”等物理方法，学生的活动以讨\\论、交流、实验探究为主，涉及的问题联系生\\活实际，贴近学生生活，强调对学习价值和意\\义的感悟。};
\node[yn,ae] (k5f) at (714,7091) {完成本设计的内容约需2课时。};
\node[yn,ae] (k6) at (825,7226) {六、教学流程};
\node[yn,ae] (k6a) at (734,7137) {1、教学流程图};
\node[yn,ae] (k6b) at (734,7316) {2、流程图说明};
\node[yn,ae] (k6b1) at (639,7183) {情境I录像，演示，设问1};
\node[yn,ae] (k6b2) at (639,7236) {播放录像：三环过山车，让学生看到物体的运\\动有直线和曲线。};
\node[yn,ae] (k6b3) at (639,7296) {演示：让学生向正在做直线运动的乒乓球用力\\吹气，体验球在什么情况下将做曲线运动。};
\node[yn,ae] (k6b4) at (639,7348) {设问1：物体在什么情况下将做曲线运动?};
\node[yn,ae] (k6b5) at (639,7394) {情境II观察、对比，设问2};
\node[yn,ae] (k6b6) at (639,7447) {观察、对比钟表指针和过山车这两类圆周运动\\。};

% ---------- branch 6
\node[rn,aw] (m1) at (1547,6366) {★ 高二物理教师教学工作计划范文8篇};
\node[rn,aw] (m2) at (1547,6412) {★ 高二物理教师教学总结范文10篇};
\node[rn,aw] (m3) at (1547,6457) {★ 高中物理教学计划10篇};
\node[rn,aw] (m4) at (1547,6504) {★ 广东高三物理第二章教案5篇};
\node[rn,aw] (m5) at (1547,6550) {★ 高中物理学习计划};
\node[rn,aw] (m6) at (1547,6596) {★ 高中物理教学总结10篇};
\node[rn,aw] (m7) at (1547,6641) {★ 高中物理教师工作总结范文10篇};
\node[rn,aw] (m8) at (1547,6687) {★ 中学物理教学总结与反思5篇};
\node[rn,aw] (m9) at (1547,6733) {★ 2021物理教师年度工作总结5篇};
\node[rn,aw] (m10) at (1547,6779) {★ 高二物理教师工作总结报告};

\begin{pgfonlayer}{background}
\fill[white] (0,0) rectangle (2560,7505);
% main curves
\draw[rline, line width=2.2pt] (1155,3655) .. controls (1150,2500) and (1120,977) .. (p1.east);
\draw[rline, line width=2.2pt] (1155,3655) .. controls (1160,2000) and (1200,830) .. (ov.west);
\draw[yline, line width=2.2pt] (1155,3655) .. controls (1160,2400) and (1200,1770) .. (p2.west);
\draw[bline, line width=2.2pt] (1155,3695) .. controls (1160,3950) and (1100,4009) .. (p3.east);
\draw[bline, line width=2.2pt] (1155,3695) .. controls (1165,4000) and (1220,4115) .. (p4.west);
\draw[yline, line width=2.2pt] (1155,3695) .. controls (1150,5500) and (1100,6372) .. (p5.east);
\draw[rline, line width=2.2pt] (1155,3695) .. controls (1165,5500) and (1230,6573) .. (p6.west);
% branch 1
\cL{rcm}{p1}{a1,a2,a3,a4,a5,a6,a7,a8,a9,a10,a11}
\cL{rc}{a5}{a5a,a5b,a5c,a5d,a5e,a5f}
\cL{rc}{a8}{a8a}
\cL{rc}{a9}{a9a,a9b}
\cL{rc}{a10}{a10a,a10b}
\cL{rc}{a11}{b1,b2,b3,b4,b5,b6,b7,b8,b9,b10}
\cL{rc}{b3}{b3a,b3b,b3c}
\cL{rc}{b4}{b4a,b4b}
\cL{rc}{b4b}{b4b1,b4b2}
\cL{rc}{b5}{b5a}
\cL{rc}{b6}{b6a,b6b,b6c}
\cL{rc}{b6b}{b6b1}
\cL{rc}{b6c}{b6c1,b6c2,b6c3,b6c4}
\cL{rc}{b7}{b7a,b7b}
\cL{rc}{b8}{b8a,b8b,b8c,b8d,b8e,b8f,b8g,b8h}
\cL{rc}{b8f}{b8f1}
\cL{rc}{b8g}{b8g1}
\cL{rc}{b8h}{b8h1}
\cL{rc}{b9}{b9a,b9b,b9c,b9d,b9e}
\cL{rc}{b9e}{b9e1}
\cL{rc}{b10}{b10a,b10b}
% branch 2
\cR{ycm}{p2}{c1,c2,c3,c4,c5,c6,c7}
\cR{yc}{c3}{c3a,c3b,c3c}
\cR{yc}{c4}{c4a,c4b}
\cR{yc}{c5}{c5a,c5b,c5c}
\cR{yc}{c5c}{c5c1,c5c2}
\cR{yc}{c5c2}{c5c2a,c5c2b}
\cR{yc}{c6}{c6a,c6b,c6c}
\cR{yc}{c7}{d1,d2,d3,d4}
\cR{yc}{d1}{d1a}
\cR{yc}{d2}{d2a,d2b,d2c,d2d,d2e,d2f}
\cR{yc}{d2f}{d2f1,d2f2,d2f3,d2f4,d2f5}
\cR{yc}{d3}{d3a,d3b,d3c,d3d,d3e,d3f}
\cR{yc}{d4}{d4a,d4b,d4c,d4d}
\cR{yc}{d4a}{d4a1}
\cR{yc}{d4c}{d4c1}
% branch 3
\cL{bcm}{p3}{e1,e2,e3,e4,e5,e6,e7,e8,e9,e10,e11,e12,e13,e14,e15,e16,e17,e18}
\cL{bc}{e5}{e5a}
\cL{bc}{e7}{e7a,e7b,e7c}
\cL{bc}{e7c}{e7c1}
\cL{bc}{e8}{e8a}
\cL{bc}{e9}{e9a,e9b,e9c,e9d}
\cL{bc}{e10}{e10a,e10b}
\cL{bc}{e10a}{e10a1}
\cL{bc}{e11}{e11a,e11b}
\cL{bc}{e11b}{e11b1}
\cL{bc}{e13}{e13a,e13b}
\cL{bc}{e13a}{e13a1,e13a2}
\cL{bc}{e14}{e14a,e14b,e14c}
\cL{bc}{e14c}{e14c1}
\cL{bc}{e14c1}{e14c1a,e14c1b,e14c1c,e14c1d}
\cL{bc}{e16}{e16a,e16b}
\cL{bc}{e17}{e17a,e17b}
\cL{bc}{e18}{e18a,e18b}
\cL{bc}{e18b}{e18b1,e18b2,e18b3}
% branch 4
\cR{bcm}{p4}{f1,f2,f3}
\cR{bc}{f1}{f1a,f1b,f1c,f1d}
\cR{bc}{f1d}{f1d1}
\cR{bc}{f2}{f2a,f2b}
\cR{bc}{f2b}{f2b1}
\cR{bc}{f3}{g1,g2,g3}
\cR{bc}{g2}{g2a,g2b,g2c,g2d,g2e,g2f,g2g,g2h}
\cR{bc}{g2b}{g2b1,g2b2,g2b3,g2b4,g2b5,g2b6}
\cR{bc}{g2b6}{g2b6a,g2b6b}
\cR{bc}{g2d}{g2d1}
\cR{bc}{g2e}{g2e1}
\cR{bc}{g2f}{g2f1,g2f2}
\cR{bc}{g2g}{g2g1}
\cR{bc}{g2h}{g2h1,g2h2,g2h3,g2h4}
\cR{bc}{g3}{h1,h2,h3}
\cR{bc}{h3}{h3a,h3b,h3c,h3d,h3e,h3f,h3g,h3h}
\cR{bc}{h3b}{h3b1,h3b2,h3b3,h3b4}
\cR{bc}{h3b3}{h3b3a}
\cR{bc}{h3e}{h3e1}
\cR{bc}{h3e1}{h3e1a,h3e1b,h3e1c}
\cR{bc}{h3f}{h3f1,h3f2,h3f3,h3f4}
\cR{bc}{h3g}{h3g1,h3g2,h3g3,h3g4,h3g5,h3g6,h3g7,h3g8}
\cR{bc}{h3g4}{h3g4a}
\cR{bc}{h3h}{h3h1,h3h2,h3h3,h3h4}
\cR{bc}{h3h4}{h3h4a}
% branch 5
\cL{ycm}{p5}{k1,k2,k3,k4,k5,k6}
\cL{yc}{k1}{k1a,k1b,k1c,k1d,k1e,k1f}
\cL{yc}{k2}{k2a,k2b,k2c}
\cL{yc}{k2a}{k2a1,k2a2,k2a3,k2a4}
\cL{yc}{k2b}{k2b1,k2b2}
\cL{yc}{k2c}{k2c1,k2c2}
\cL{yc}{k3}{k3a}
\cL{yc}{k3a}{k3a1,k3a2}
\cL{yc}{k3a2}{k3a2a}
\cL{yc}{k4}{k4a,k4b,k4c}
\cL{yc}{k5}{k5a,k5b,k5c,k5d,k5e,k5f}
\cL{yc}{k6}{k6a,k6b}
\cL{yc}{k6b}{k6b1,k6b2,k6b3,k6b4,k6b5,k6b6}
% branch 6
\cR{rcm}{p6}{m1,m2,m3,m4,m5,m6,m7,m8,m9,m10}
\end{pgfonlayer}
\end{tikzpicture}
\end{document}
